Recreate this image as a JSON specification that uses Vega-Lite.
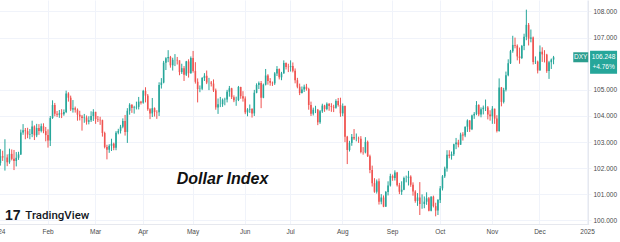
{
  "$schema": "https://vega.github.io/schema/vega-lite/v6.json",
  "width": 588,
  "height": 224,
  "autosize": "none",
  "padding": {"left": 0, "top": 0, "right": 32, "bottom": 18},
  "background": "white",
  "config": {"view": {"stroke": null}, "font": "Liberation Sans"},
  "datasets": {
    "dxy": [
      {"date":"2024-01-02","open":101.33,"high":102.25,"low":101.33,"close":102.20},
      {"date":"2024-01-03","open":102.20,"high":102.73,"low":102.10,"close":102.46},
      {"date":"2024-01-04","open":102.46,"high":102.67,"low":102.28,"close":102.41},
      {"date":"2024-01-05","open":102.41,"high":103.11,"low":101.91,"close":102.41},
      {"date":"2024-01-08","open":102.41,"high":102.53,"low":102.08,"close":102.23},
      {"date":"2024-01-09","open":102.23,"high":102.75,"low":102.17,"close":102.55},
      {"date":"2024-01-10","open":102.55,"high":102.72,"low":102.30,"close":102.36},
      {"date":"2024-01-11","open":102.36,"high":102.70,"low":101.93,"close":102.28},
      {"date":"2024-01-12","open":102.28,"high":102.62,"low":102.07,"close":102.40},
      {"date":"2024-01-15","open":102.40,"high":102.63,"low":102.32,"close":102.53},
      {"date":"2024-01-16","open":102.53,"high":103.48,"low":102.51,"close":103.37},
      {"date":"2024-01-17","open":103.37,"high":103.69,"low":103.28,"close":103.45},
      {"date":"2024-01-18","open":103.45,"high":103.54,"low":103.11,"close":103.42},
      {"date":"2024-01-19","open":103.42,"high":103.55,"low":103.15,"close":103.29},
      {"date":"2024-01-22","open":103.29,"high":103.50,"low":103.11,"close":103.31},
      {"date":"2024-01-23","open":103.31,"high":103.82,"low":103.19,"close":103.60},
      {"date":"2024-01-24","open":103.60,"high":103.64,"low":103.08,"close":103.26},
      {"date":"2024-01-25","open":103.26,"high":103.70,"low":103.19,"close":103.54},
      {"date":"2024-01-26","open":103.54,"high":103.69,"low":103.28,"close":103.43},
      {"date":"2024-01-29","open":103.43,"high":103.71,"low":103.37,"close":103.61},
      {"date":"2024-01-30","open":103.61,"high":103.72,"low":103.34,"close":103.42},
      {"date":"2024-01-31","open":103.42,"high":103.58,"low":103.03,"close":103.27},
      {"date":"2024-02-01","open":103.27,"high":103.49,"low":102.79,"close":103.06},
      {"date":"2024-02-02","open":103.06,"high":104.00,"low":102.85,"close":103.92},
      {"date":"2024-02-05","open":103.92,"high":104.60,"low":103.89,"close":104.42},
      {"date":"2024-02-06","open":104.42,"high":104.50,"low":103.99,"close":104.09},
      {"date":"2024-02-07","open":104.09,"high":104.19,"low":103.96,"close":104.05},
      {"date":"2024-02-08","open":104.05,"high":104.23,"low":103.93,"close":104.10},
      {"date":"2024-02-09","open":104.10,"high":104.26,"low":103.92,"close":104.07},
      {"date":"2024-02-12","open":104.07,"high":104.25,"low":104.01,"close":104.15},
      {"date":"2024-02-13","open":104.15,"high":104.97,"low":104.11,"close":104.86},
      {"date":"2024-02-14","open":104.86,"high":104.91,"low":104.55,"close":104.70},
      {"date":"2024-02-15","open":104.70,"high":104.78,"low":104.19,"close":104.25},
      {"date":"2024-02-16","open":104.25,"high":104.61,"low":104.13,"close":104.30},
      {"date":"2024-02-19","open":104.30,"high":104.36,"low":104.13,"close":104.24},
      {"date":"2024-02-20","open":104.24,"high":104.29,"low":103.82,"close":104.05},
      {"date":"2024-02-21","open":104.05,"high":104.20,"low":103.83,"close":103.98},
      {"date":"2024-02-22","open":103.98,"high":104.04,"low":103.44,"close":103.92},
      {"date":"2024-02-23","open":103.92,"high":104.08,"low":103.74,"close":103.94},
      {"date":"2024-02-26","open":103.94,"high":104.02,"low":103.67,"close":103.78},
      {"date":"2024-02-27","open":103.78,"high":103.99,"low":103.68,"close":103.84},
      {"date":"2024-02-28","open":103.84,"high":104.18,"low":103.77,"close":104.00},
      {"date":"2024-02-29","open":104.00,"high":104.26,"low":103.81,"close":104.16},
      {"date":"2024-03-01","open":104.16,"high":104.16,"low":103.70,"close":103.88},
      {"date":"2024-03-04","open":103.88,"high":104.00,"low":103.77,"close":103.86},
      {"date":"2024-03-05","open":103.86,"high":103.97,"low":103.66,"close":103.84},
      {"date":"2024-03-06","open":103.84,"high":103.86,"low":103.21,"close":103.35},
      {"date":"2024-03-07","open":103.35,"high":103.40,"low":102.76,"close":102.81},
      {"date":"2024-03-08","open":102.81,"high":102.90,"low":102.34,"close":102.71},
      {"date":"2024-03-11","open":102.71,"high":102.92,"low":102.59,"close":102.86},
      {"date":"2024-03-12","open":102.86,"high":103.13,"low":102.66,"close":102.94},
      {"date":"2024-03-13","open":102.94,"high":102.98,"low":102.69,"close":102.78},
      {"date":"2024-03-14","open":102.78,"high":103.42,"low":102.69,"close":103.36},
      {"date":"2024-03-15","open":103.36,"high":103.51,"low":103.30,"close":103.43},
      {"date":"2024-03-18","open":103.43,"high":103.66,"low":103.33,"close":103.59},
      {"date":"2024-03-19","open":103.59,"high":103.91,"low":103.53,"close":103.81},
      {"date":"2024-03-20","open":103.81,"high":104.04,"low":103.25,"close":103.39},
      {"date":"2024-03-21","open":103.39,"high":104.30,"low":102.97,"close":104.20},
      {"date":"2024-03-22","open":104.20,"high":104.49,"low":104.05,"close":104.43},
      {"date":"2024-03-25","open":104.43,"high":104.45,"low":104.12,"close":104.31},
      {"date":"2024-03-26","open":104.31,"high":104.39,"low":104.09,"close":104.33},
      {"date":"2024-03-27","open":104.33,"high":104.55,"low":104.25,"close":104.35},
      {"date":"2024-03-28","open":104.35,"high":104.73,"low":104.25,"close":104.55},
      {"date":"2024-03-29","open":104.55,"high":104.58,"low":104.44,"close":104.51},
      {"date":"2024-04-01","open":104.51,"high":105.00,"low":104.47,"close":104.96},
      {"date":"2024-04-02","open":104.96,"high":105.10,"low":104.52,"close":104.78},
      {"date":"2024-04-03","open":104.78,"high":104.84,"low":104.20,"close":104.26},
      {"date":"2024-04-04","open":104.26,"high":104.30,"low":103.88,"close":104.10},
      {"date":"2024-04-05","open":104.10,"high":104.69,"low":103.96,"close":104.30},
      {"date":"2024-04-08","open":104.30,"high":104.33,"low":103.98,"close":104.15},
      {"date":"2024-04-09","open":104.15,"high":104.22,"low":103.89,"close":104.14},
      {"date":"2024-04-10","open":104.14,"high":105.29,"low":104.00,"close":105.19},
      {"date":"2024-04-11","open":105.19,"high":105.45,"low":105.05,"close":105.28},
      {"date":"2024-04-12","open":105.28,"high":106.11,"low":105.25,"close":106.04},
      {"date":"2024-04-15","open":106.04,"high":106.25,"low":105.76,"close":106.21},
      {"date":"2024-04-16","open":106.21,"high":106.52,"low":106.06,"close":106.26},
      {"date":"2024-04-17","open":106.26,"high":106.30,"low":105.85,"close":105.94},
      {"date":"2024-04-18","open":105.94,"high":106.23,"low":105.74,"close":106.15},
      {"date":"2024-04-19","open":106.15,"high":106.37,"low":105.91,"close":106.15},
      {"date":"2024-04-22","open":106.15,"high":106.26,"low":105.97,"close":106.13},
      {"date":"2024-04-23","open":106.13,"high":106.13,"low":105.56,"close":105.68},
      {"date":"2024-04-24","open":105.68,"high":106.00,"low":105.61,"close":105.83},
      {"date":"2024-04-25","open":105.83,"high":105.91,"low":105.34,"close":105.58},
      {"date":"2024-04-26","open":105.58,"high":106.11,"low":105.53,"close":106.09},
      {"date":"2024-04-29","open":106.09,"high":106.17,"low":105.47,"close":105.64},
      {"date":"2024-04-30","open":105.64,"high":106.28,"low":105.62,"close":106.22},
      {"date":"2024-05-01","open":106.22,"high":106.49,"low":105.66,"close":105.72},
      {"date":"2024-05-02","open":105.72,"high":106.06,"low":105.24,"close":105.31},
      {"date":"2024-05-03","open":105.31,"high":105.44,"low":104.52,"close":105.03},
      {"date":"2024-05-06","open":105.03,"high":105.17,"low":104.91,"close":105.04},
      {"date":"2024-05-07","open":105.04,"high":105.49,"low":104.99,"close":105.45},
      {"date":"2024-05-08","open":105.45,"high":105.64,"low":105.34,"close":105.54},
      {"date":"2024-05-09","open":105.54,"high":105.74,"low":105.22,"close":105.28},
      {"date":"2024-05-10","open":105.28,"high":105.46,"low":104.99,"close":105.28},
      {"date":"2024-05-13","open":105.28,"high":105.34,"low":105.13,"close":105.24},
      {"date":"2024-05-14","open":105.24,"high":105.40,"low":104.92,"close":104.98},
      {"date":"2024-05-15","open":104.98,"high":105.05,"low":104.24,"close":104.33},
      {"date":"2024-05-16","open":104.33,"high":104.67,"low":104.08,"close":104.45},
      {"date":"2024-05-17","open":104.45,"high":104.73,"low":104.34,"close":104.45},
      {"date":"2024-05-20","open":104.45,"high":104.67,"low":104.35,"close":104.62},
      {"date":"2024-05-21","open":104.62,"high":104.70,"low":104.41,"close":104.63},
      {"date":"2024-05-22","open":104.63,"high":105.00,"low":104.52,"close":104.93},
      {"date":"2024-05-23","open":104.93,"high":105.15,"low":104.74,"close":105.06},
      {"date":"2024-05-24","open":105.06,"high":105.08,"low":104.65,"close":104.72},
      {"date":"2024-05-27","open":104.72,"high":104.79,"low":104.53,"close":104.60},
      {"date":"2024-05-28","open":104.60,"high":104.74,"low":104.39,"close":104.61},
      {"date":"2024-05-29","open":104.61,"high":105.15,"low":104.57,"close":105.11},
      {"date":"2024-05-30","open":105.11,"high":105.12,"low":104.66,"close":104.76},
      {"date":"2024-05-31","open":104.76,"high":104.95,"low":104.55,"close":104.67},
      {"date":"2024-06-03","open":104.67,"high":104.75,"low":104.07,"close":104.14},
      {"date":"2024-06-04","open":104.14,"high":104.30,"low":103.99,"close":104.25},
      {"date":"2024-06-05","open":104.25,"high":104.44,"low":104.12,"close":104.27},
      {"date":"2024-06-06","open":104.27,"high":104.30,"low":103.94,"close":104.10},
      {"date":"2024-06-07","open":104.10,"high":105.00,"low":104.00,"close":104.89},
      {"date":"2024-06-10","open":104.89,"high":105.25,"low":104.87,"close":105.19},
      {"date":"2024-06-11","open":105.19,"high":105.32,"low":105.03,"close":105.26},
      {"date":"2024-06-12","open":105.26,"high":105.34,"low":104.30,"close":104.70},
      {"date":"2024-06-13","open":104.70,"high":105.24,"low":104.68,"close":105.20},
      {"date":"2024-06-14","open":105.20,"high":105.80,"low":105.17,"close":105.55},
      {"date":"2024-06-17","open":105.55,"high":105.60,"low":105.20,"close":105.34},
      {"date":"2024-06-18","open":105.34,"high":105.45,"low":105.16,"close":105.27},
      {"date":"2024-06-19","open":105.27,"high":105.32,"low":105.15,"close":105.25},
      {"date":"2024-06-20","open":105.25,"high":105.68,"low":105.19,"close":105.63},
      {"date":"2024-06-21","open":105.63,"high":105.91,"low":105.53,"close":105.80},
      {"date":"2024-06-24","open":105.80,"high":105.82,"low":105.40,"close":105.48},
      {"date":"2024-06-25","open":105.48,"high":105.69,"low":105.37,"close":105.63},
      {"date":"2024-06-26","open":105.63,"high":106.13,"low":105.62,"close":106.03},
      {"date":"2024-06-27","open":106.03,"high":106.05,"low":105.78,"close":105.88},
      {"date":"2024-06-28","open":105.88,"high":106.00,"low":105.68,"close":105.87},
      {"date":"2024-07-01","open":105.87,"high":106.13,"low":105.70,"close":105.91},
      {"date":"2024-07-02","open":105.91,"high":106.05,"low":105.67,"close":105.73},
      {"date":"2024-07-03","open":105.73,"high":105.82,"low":105.25,"close":105.37},
      {"date":"2024-07-04","open":105.37,"high":105.46,"low":105.06,"close":105.12},
      {"date":"2024-07-05","open":105.12,"high":105.24,"low":104.80,"close":104.88},
      {"date":"2024-07-08","open":104.88,"high":105.13,"low":104.86,"close":105.01},
      {"date":"2024-07-09","open":105.01,"high":105.20,"low":104.92,"close":105.12},
      {"date":"2024-07-10","open":105.12,"high":105.23,"low":104.97,"close":105.03},
      {"date":"2024-07-11","open":105.03,"high":105.08,"low":104.24,"close":104.42},
      {"date":"2024-07-12","open":104.42,"high":104.55,"low":104.00,"close":104.09},
      {"date":"2024-07-15","open":104.09,"high":104.32,"low":104.02,"close":104.24},
      {"date":"2024-07-16","open":104.24,"high":104.39,"low":104.11,"close":104.24},
      {"date":"2024-07-17","open":104.24,"high":104.27,"low":103.65,"close":103.76},
      {"date":"2024-07-18","open":103.76,"high":104.23,"low":103.70,"close":104.18},
      {"date":"2024-07-19","open":104.18,"high":104.47,"low":104.12,"close":104.40},
      {"date":"2024-07-22","open":104.40,"high":104.43,"low":104.16,"close":104.27},
      {"date":"2024-07-23","open":104.27,"high":104.52,"low":104.22,"close":104.47},
      {"date":"2024-07-24","open":104.47,"high":104.49,"low":104.20,"close":104.38},
      {"date":"2024-07-25","open":104.38,"high":104.49,"low":104.16,"close":104.35},
      {"date":"2024-07-26","open":104.35,"high":104.43,"low":104.15,"close":104.32},
      {"date":"2024-07-29","open":104.32,"high":104.64,"low":104.28,"close":104.57},
      {"date":"2024-07-30","open":104.57,"high":104.69,"low":104.36,"close":104.42},
      {"date":"2024-07-31","open":104.42,"high":104.70,"low":103.97,"close":104.10},
      {"date":"2024-08-01","open":104.10,"high":104.48,"low":103.99,"close":104.38},
      {"date":"2024-08-02","open":104.38,"high":104.40,"low":103.00,"close":103.21},
      {"date":"2024-08-05","open":103.21,"high":103.24,"low":102.16,"close":102.70},
      {"date":"2024-08-06","open":102.70,"high":103.05,"low":102.64,"close":102.97},
      {"date":"2024-08-07","open":102.97,"high":103.31,"low":102.86,"close":103.20},
      {"date":"2024-08-08","open":103.20,"high":103.50,"low":103.08,"close":103.14},
      {"date":"2024-08-09","open":103.14,"high":103.33,"low":103.03,"close":103.14},
      {"date":"2024-08-12","open":103.14,"high":103.21,"low":102.97,"close":103.13},
      {"date":"2024-08-13","open":103.13,"high":103.23,"low":102.57,"close":102.62},
      {"date":"2024-08-14","open":102.62,"high":102.81,"low":102.52,"close":102.61},
      {"date":"2024-08-15","open":102.61,"high":103.19,"low":102.57,"close":103.01},
      {"date":"2024-08-16","open":103.01,"high":103.06,"low":102.43,"close":102.46},
      {"date":"2024-08-19","open":102.46,"high":102.52,"low":101.81,"close":101.93},
      {"date":"2024-08-20","open":101.93,"high":102.10,"low":101.30,"close":101.43},
      {"date":"2024-08-21","open":101.43,"high":101.62,"low":101.06,"close":101.10},
      {"date":"2024-08-22","open":101.10,"high":101.57,"low":101.03,"close":101.50},
      {"date":"2024-08-23","open":101.50,"high":101.61,"low":100.61,"close":100.72},
      {"date":"2024-08-26","open":100.72,"high":101.01,"low":100.62,"close":100.88},
      {"date":"2024-08-27","open":100.88,"high":100.96,"low":100.51,"close":100.53},
      {"date":"2024-08-28","open":100.53,"high":101.13,"low":100.53,"close":101.09},
      {"date":"2024-08-29","open":101.09,"high":101.50,"low":100.96,"close":101.34},
      {"date":"2024-08-30","open":101.34,"high":101.79,"low":101.30,"close":101.70},
      {"date":"2024-09-02","open":101.70,"high":101.76,"low":101.52,"close":101.63},
      {"date":"2024-09-03","open":101.63,"high":101.92,"low":101.53,"close":101.84},
      {"date":"2024-09-04","open":101.84,"high":101.86,"low":101.30,"close":101.35},
      {"date":"2024-09-05","open":101.35,"high":101.44,"low":101.01,"close":101.10},
      {"date":"2024-09-06","open":101.10,"high":101.50,"low":100.98,"close":101.18},
      {"date":"2024-09-09","open":101.18,"high":101.68,"low":101.16,"close":101.63},
      {"date":"2024-09-10","open":101.63,"high":101.72,"low":101.46,"close":101.63},
      {"date":"2024-09-11","open":101.63,"high":101.90,"low":101.34,"close":101.68},
      {"date":"2024-09-12","open":101.68,"high":101.73,"low":101.29,"close":101.37},
      {"date":"2024-09-13","open":101.37,"high":101.46,"low":100.95,"close":101.11},
      {"date":"2024-09-16","open":101.11,"high":101.16,"low":100.68,"close":100.75},
      {"date":"2024-09-17","open":100.75,"high":101.05,"low":100.56,"close":100.88},
      {"date":"2024-09-18","open":100.88,"high":101.47,"low":100.21,"close":100.63},
      {"date":"2024-09-19","open":100.63,"high":101.00,"low":100.45,"close":100.63},
      {"date":"2024-09-20","open":100.63,"high":100.92,"low":100.47,"close":100.72},
      {"date":"2024-09-23","open":100.72,"high":101.08,"low":100.60,"close":100.85},
      {"date":"2024-09-24","open":100.85,"high":100.90,"low":100.35,"close":100.37},
      {"date":"2024-09-25","open":100.37,"high":100.93,"low":100.35,"close":100.91},
      {"date":"2024-09-26","open":100.91,"high":100.95,"low":100.50,"close":100.55},
      {"date":"2024-09-27","open":100.55,"high":100.68,"low":100.16,"close":100.38},
      {"date":"2024-09-30","open":100.38,"high":100.82,"low":100.21,"close":100.78},
      {"date":"2024-10-01","open":100.78,"high":101.32,"low":100.67,"close":101.23},
      {"date":"2024-10-02","open":101.23,"high":101.74,"low":101.15,"close":101.69},
      {"date":"2024-10-03","open":101.69,"high":102.06,"low":101.63,"close":101.99},
      {"date":"2024-10-04","open":101.99,"high":102.69,"low":101.87,"close":102.52},
      {"date":"2024-10-07","open":102.52,"high":102.69,"low":102.38,"close":102.47},
      {"date":"2024-10-08","open":102.47,"high":102.64,"low":102.33,"close":102.54},
      {"date":"2024-10-09","open":102.54,"high":102.94,"low":102.47,"close":102.92},
      {"date":"2024-10-10","open":102.92,"high":103.16,"low":102.73,"close":102.99},
      {"date":"2024-10-11","open":102.99,"high":103.09,"low":102.80,"close":102.90},
      {"date":"2024-10-14","open":102.90,"high":103.36,"low":102.90,"close":103.29},
      {"date":"2024-10-15","open":103.29,"high":103.38,"low":103.06,"close":103.25},
      {"date":"2024-10-16","open":103.25,"high":103.60,"low":103.19,"close":103.59},
      {"date":"2024-10-17","open":103.59,"high":103.87,"low":103.39,"close":103.83},
      {"date":"2024-10-18","open":103.83,"high":103.84,"low":103.39,"close":103.49},
      {"date":"2024-10-21","open":103.49,"high":104.05,"low":103.46,"close":104.02},
      {"date":"2024-10-22","open":104.02,"high":104.15,"low":103.89,"close":104.08},
      {"date":"2024-10-23","open":104.08,"high":104.57,"low":104.03,"close":104.42},
      {"date":"2024-10-24","open":104.42,"high":104.45,"low":103.99,"close":104.06},
      {"date":"2024-10-25","open":104.06,"high":104.33,"low":103.95,"close":104.26},
      {"date":"2024-10-28","open":104.26,"high":104.40,"low":104.06,"close":104.32},
      {"date":"2024-10-29","open":104.32,"high":104.63,"low":104.19,"close":104.33},
      {"date":"2024-10-30","open":104.33,"high":104.38,"low":103.87,"close":104.06},
      {"date":"2024-10-31","open":104.06,"high":104.22,"low":103.82,"close":103.99},
      {"date":"2024-11-01","open":103.99,"high":104.38,"low":103.70,"close":104.28},
      {"date":"2024-11-04","open":104.28,"high":104.28,"low":103.70,"close":103.90},
      {"date":"2024-11-05","open":103.90,"high":104.03,"low":103.37,"close":103.43},
      {"date":"2024-11-06","open":103.43,"high":105.44,"low":103.40,"close":105.09},
      {"date":"2024-11-07","open":105.09,"high":105.11,"low":104.37,"close":104.54},
      {"date":"2024-11-08","open":104.54,"high":105.08,"low":104.48,"close":105.00},
      {"date":"2024-11-11","open":105.00,"high":105.70,"low":104.94,"close":105.56},
      {"date":"2024-11-12","open":105.56,"high":106.17,"low":105.52,"close":106.02},
      {"date":"2024-11-13","open":106.02,"high":106.53,"low":105.99,"close":106.48},
      {"date":"2024-11-14","open":106.48,"high":107.07,"low":106.42,"close":106.72},
      {"date":"2024-11-15","open":106.72,"high":107.00,"low":106.59,"close":106.69},
      {"date":"2024-11-18","open":106.69,"high":106.74,"low":106.13,"close":106.28},
      {"date":"2024-11-19","open":106.28,"high":106.62,"low":106.00,"close":106.22},
      {"date":"2024-11-20","open":106.22,"high":106.72,"low":106.18,"close":106.68},
      {"date":"2024-11-21","open":106.68,"high":107.15,"low":106.52,"close":107.03},
      {"date":"2024-11-22","open":107.03,"high":108.07,"low":106.90,"close":107.49},
      {"date":"2024-11-25","open":107.49,"high":107.56,"low":106.70,"close":106.96},
      {"date":"2024-11-26","open":106.96,"high":107.31,"low":106.82,"close":107.00},
      {"date":"2024-11-27","open":107.00,"high":107.04,"low":105.97,"close":106.07},
      {"date":"2024-11-28","open":106.07,"high":106.28,"low":105.99,"close":106.08},
      {"date":"2024-11-29","open":106.08,"high":106.12,"low":105.63,"close":105.74},
      {"date":"2024-12-02","open":105.74,"high":106.70,"low":105.74,"close":106.46},
      {"date":"2024-12-03","open":106.46,"high":106.63,"low":106.07,"close":106.36},
      {"date":"2024-12-04","open":106.36,"high":106.52,"low":106.05,"close":106.35},
      {"date":"2024-12-05","open":106.35,"high":106.38,"low":105.65,"close":105.72},
      {"date":"2024-12-06","open":105.72,"high":106.11,"low":105.42,"close":106.06},
      {"date":"2024-12-09","open":106.06,"high":106.20,"low":105.80,"close":106.16},
      {"date":"2024-12-10","open":106.16,"high":106.30,"low":105.98,"close":106.248},
      {"date":"2024-12-11"},{"date":"2024-12-12"},{"date":"2024-12-13"},
      {"date":"2024-12-16"},{"date":"2024-12-17"},{"date":"2024-12-18"},
      {"date":"2024-12-19"},{"date":"2024-12-20"},{"date":"2024-12-23"},
      {"date":"2024-12-24"},{"date":"2024-12-26"},{"date":"2024-12-27"},
      {"date":"2024-12-30"},{"date":"2024-12-31"},{"date":"2025-01-02"}
    ]
  },
  "layer": [
    {
      "data": {"name": "dxy"},
      "mark": {"type": "point", "opacity": 0},
      "encoding": {
        "x": {
          "field": "date",
          "type": "ordinal",
          "title": null,
          "scale": {"type": "band", "paddingInner": 0, "paddingOuter": 0, "range": [-3, 588.7]},
          "axis": {
            "values": ["2024-01-02","2024-02-01","2024-03-01","2024-04-01","2024-05-01","2024-06-03","2024-07-01","2024-08-01","2024-09-02","2024-10-01","2024-11-01","2024-12-02","2025-01-02"],
            "labelExpr": "utcmonth(toDate(datum.value)) == 0 ? utcFormat(toDate(datum.value), '%Y') : utcFormat(toDate(datum.value), '%b')",
            "labelAngle": 0,
            "labelOverlap": false,
            "labelBound": false,
            "labelFlush": false,
            "labelFontSize": 6.5,
            "labelColor": "#4a4a4a",
            "labelPadding": 4,
            "ticks": false,
            "grid": true,
            "gridColor": "#f0f3fa",
            "domain": true,
            "domainColor": "#e6e8ee"
          }
        }
      }
    },
    {
      "data": {"name": "dxy"},
      "mark": {"type": "rule", "strokeWidth": 1},
      "encoding": {
        "x": {"field": "date", "type": "ordinal"},
        "y": {
          "field": "low",
          "type": "quantitative",
          "scale": {"domain": [99.866, 108.44], "nice": false, "zero": false},
          "axis": {
            "orient": "right",
            "title": null,
            "values": [100, 101, 102, 103, 104, 105, 107, 108],
            "tickCount": 30,
            "format": ".3f",
            "labelOverlap": false,
            "labelBound": false,
            "labelFontSize": 6.5,
            "labelColor": "#4a4a4a",
            "labelPadding": 5,
            "ticks": false,
            "grid": true,
            "gridColor": "#f0f3fa",
            "domain": true,
            "domainColor": "#e6e8ee"
          }
        },
        "y2": {"field": "high"},
        "color": {"condition": {"test": "datum.close >= datum.open", "value": "#26a69a"}, "value": "#ef5350"}
      }
    },
    {
      "mark": {"type": "rule", "color": "#c8c8c8", "strokeWidth": 1},
      "encoding": {
        "y": {"datum": 106.248, "type": "quantitative"}
      }
    },
    {
      "data": {"name": "dxy"},
      "mark": {"type": "bar", "width": {"band": 0.7}, "minBandSize": 0.6},
      "encoding": {
        "x": {"field": "date", "type": "ordinal"},
        "y": {"field": "open", "type": "quantitative"},
        "y2": {"field": "close"},
        "color": {"condition": {"test": "datum.close >= datum.open", "value": "#26a69a"}, "value": "#ef5350"}
      }
    },
    {
      "data": {"values": [{"date": "2024-05-20", "value": 101.378, "label": "Dollar Index"}]},
      "mark": {"type": "text", "font": "Liberation Sans", "fontSize": 16, "fontWeight": "bold", "fontStyle": "italic", "color": "#111111", "align": "center", "baseline": "alphabetic"},
      "encoding": {
        "x": {"field": "date", "type": "ordinal"},
        "y": {"field": "value", "type": "quantitative"},
        "text": {"field": "label"}
      }
    },
    {
      "data": {"values": [{"date": "2024-01-18", "value": 100.057, "label": "TradingView"}]},
      "mark": {"type": "text", "font": "Roboto", "fontSize": 11.5, "fontWeight": 500, "color": "#131722", "align": "left", "baseline": "alphabetic"},
      "encoding": {
        "x": {"field": "date", "type": "ordinal"},
        "y": {"field": "value", "type": "quantitative"},
        "text": {"field": "label"}
      }
    },
    {
      "data": {"values": [{"date": "2024-01-05", "value": 100.02, "label": "17"}]},
      "mark": {"type": "text", "font": "Liberation Sans", "fontSize": 14, "fontWeight": "bold", "color": "#131722", "align": "left", "baseline": "alphabetic"},
      "encoding": {
        "x": {"field": "date", "type": "ordinal"},
        "y": {"field": "value", "type": "quantitative"},
        "text": {"field": "label"}
      }
    },
    {
      "data": {"values": [{"date": "2024-12-27", "value": 106.248}]},
      "mark": {"type": "point", "shape": "M-1,-0.667H1V0.667H-1Z", "filled": true, "size": 225, "color": "#2b9e8f", "opacity": 1},
      "encoding": {
        "x": {"field": "date", "type": "ordinal"},
        "y": {"field": "value", "type": "quantitative"}
      }
    },
    {
      "data": {"values": [{"date": "2024-12-27", "value": 106.248, "label": "DXY"}]},
      "mark": {"type": "text", "fontSize": 6.5, "color": "white", "align": "center", "baseline": "middle"},
      "encoding": {
        "x": {"field": "date", "type": "ordinal"},
        "y": {"field": "value", "type": "quantitative"},
        "text": {"field": "label"}
      }
    },
    {
      "data": {"values": [{"date": "2025-01-02", "value": 106.248}]},
      "mark": {"type": "point", "shape": "M-1,-0.852H1V0.852H-1Z", "filled": true, "size": 729, "color": "#26a69a", "opacity": 1, "xOffset": 16, "yOffset": 5},
      "encoding": {
        "x": {"field": "date", "type": "ordinal"},
        "y": {"field": "value", "type": "quantitative"}
      }
    },
    {
      "data": {"values": [{"date": "2025-01-02", "value": 106.248, "label": "106.248"}]},
      "mark": {"type": "text", "fontSize": 6.5, "color": "white", "align": "center", "baseline": "middle", "xOffset": 16},
      "encoding": {
        "x": {"field": "date", "type": "ordinal"},
        "y": {"field": "value", "type": "quantitative"},
        "text": {"field": "label"}
      }
    },
    {
      "data": {"values": [{"date": "2025-01-02", "value": 106.248, "label": "+4.76%"}]},
      "mark": {"type": "text", "fontSize": 6.5, "color": "white", "align": "center", "baseline": "middle", "xOffset": 16, "yOffset": 10},
      "encoding": {
        "x": {"field": "date", "type": "ordinal"},
        "y": {"field": "value", "type": "quantitative"},
        "text": {"field": "label"}
      }
    }
  ]
}
